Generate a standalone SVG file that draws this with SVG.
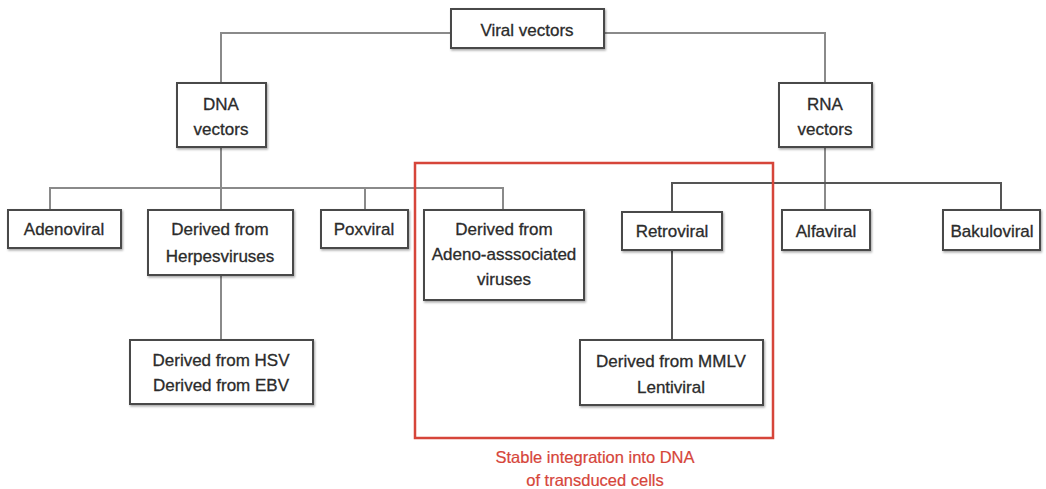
<svg xmlns="http://www.w3.org/2000/svg" width="1046" height="489" viewBox="0 0 1046 489">
  <defs>
    <filter id="shadow" x="-10%" y="-10%" width="120%" height="130%">
      <feDropShadow dx="1" dy="1.5" stdDeviation="0.8" flood-color="#000" flood-opacity="0.35"/>
    </filter>
  </defs>
  <style>
    .box { fill: #fff; stroke: #4a4a4a; stroke-width: 2; filter: url(#shadow); }
    .link { fill: none; stroke: #8a8a8a; stroke-width: 2; }
    .link-dark { fill: none; stroke: #555; stroke-width: 2; }
    .label { font-family: "Liberation Sans", Arial, sans-serif; font-size: 17px; fill: #2b2b2b; stroke: #2b2b2b; stroke-width: 0.3; text-anchor: middle; }
    .note { font-family: "Liberation Sans", Arial, sans-serif; font-size: 16.5px; fill: #d6453a; stroke: #d6453a; stroke-width: 0.2; text-anchor: middle; }
    .frame { fill: none; stroke: #d6453a; stroke-width: 2.5; }
  </style>
  <rect width="1046" height="489" fill="#fff"/>

  <!-- connectors -->
  <g id="connectors">
    <path class="link" d="M451 33 H221 V83"/>
    <path class="link" d="M604 33 H825 V83"/>
    <path class="link" d="M221 147 V210"/>
    <path class="link" d="M50 210 V188 H503 V210"/>
    <path class="link" d="M365 188 V210"/>
    <path class="link" d="M221 275 V340"/>
    <path class="link" d="M825 147 V210"/>
    <path class="link-dark" d="M672 212 V183 H1001 V210"/>
    <path class="link-dark" d="M672 250 V340"/>
  </g>

  <!-- integrating vectors frame -->
  <g id="integration-frame">
    <rect class="frame" x="415" y="163" width="358" height="275"/>
    <text class="note" x="595" y="463">Stable integration into DNA</text>
    <text class="note" x="595" y="486">of transduced cells</text>
  </g>

  <g id="viral-vectors">
    <rect class="box" x="451" y="9" width="153" height="39"/>
    <text class="label" x="527" y="36">Viral vectors</text>
  </g>

  <g id="dna-vectors">
    <rect class="box" x="177" y="83" width="89" height="64"/>
    <text class="label" x="221" y="110">DNA</text>
    <text class="label" x="221" y="135">vectors</text>
  </g>

  <g id="rna-vectors">
    <rect class="box" x="779" y="83" width="93" height="64"/>
    <text class="label" x="825" y="110">RNA</text>
    <text class="label" x="825" y="135">vectors</text>
  </g>

  <g id="adenoviral">
    <rect class="box" x="8" y="210" width="113" height="38"/>
    <text class="label" x="64" y="235">Adenoviral</text>
  </g>

  <g id="herpesviruses">
    <rect class="box" x="148" y="210" width="145" height="65"/>
    <text class="label" x="220" y="235">Derived from</text>
    <text class="label" x="220" y="262">Herpesviruses</text>
  </g>

  <g id="poxviral">
    <rect class="box" x="321" y="210" width="87" height="38"/>
    <text class="label" x="364" y="235">Poxviral</text>
  </g>

  <g id="adeno-associated">
    <rect class="box" x="424" y="210" width="160" height="90"/>
    <text class="label" x="504" y="235">Derived from</text>
    <text class="label" x="504" y="260">Adeno-asssociated</text>
    <text class="label" x="504" y="285">viruses</text>
  </g>

  <g id="retroviral">
    <rect class="box" x="622" y="212" width="100" height="38"/>
    <text class="label" x="672" y="237">Retroviral</text>
  </g>

  <g id="alfaviral">
    <rect class="box" x="782" y="210" width="88" height="40"/>
    <text class="label" x="826" y="237">Alfaviral</text>
  </g>

  <g id="bakuloviral">
    <rect class="box" x="943" y="210" width="97" height="40"/>
    <text class="label" x="992" y="237">Bakuloviral</text>
  </g>

  <g id="hsv-ebv">
    <rect class="box" x="130" y="340" width="183" height="64"/>
    <text class="label" x="221" y="366">Derived from HSV</text>
    <text class="label" x="221" y="391">Derived from EBV</text>
  </g>

  <g id="mmlv-lentiviral">
    <rect class="box" x="580" y="340" width="183" height="65"/>
    <text class="label" x="671" y="367">Derived from MMLV</text>
    <text class="label" x="671" y="393">Lentiviral</text>
  </g>
</svg>
